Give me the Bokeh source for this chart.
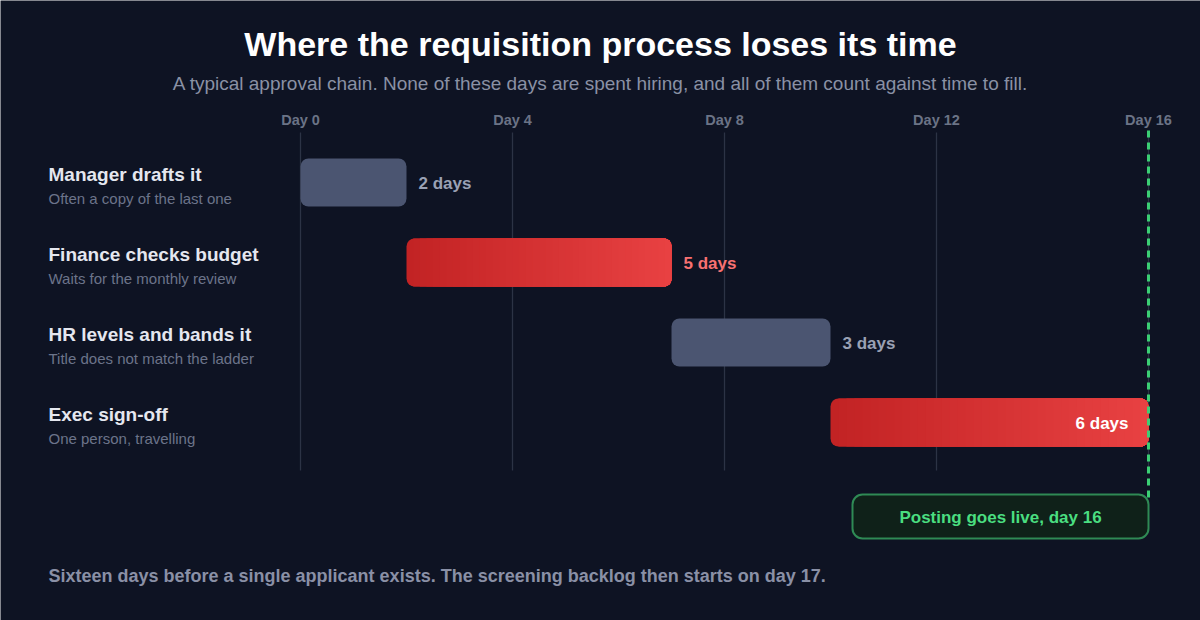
from bokeh.plotting import figure
from bokeh.models import Range1d
from bokeh.core.properties import value
from bokeh.embed import file_html
from bokeh.resources import INLINE

# ---- data ----
stages = ["Manager drafts it", "Finance checks budget", "HR levels and bands it", "Exec sign-off"]
notes = ["Often a copy of the last one", "Waits for the monthly review",
         "Title does not match the ladder", "One person, travelling"]
start_day = [0, 2, 7, 10]
duration = [2, 5, 3, 6]
is_delay = [False, True, False, True]
tick_days = [0, 4, 8, 12, 16]
tick_labels = ["Day 0", "Day 4", "Day 8", "Day 12", "Day 16"]
live_day = 16
title = "Where the requisition process loses its time"
subtitle = "A typical approval chain. None of these days are spent hiring, and all of them count against time to fill."
footer = "Sixteen days before a single applicant exists. The screening backlog then starts on day 17."
live_label = "Posting goes live, day 16"

# ---- layout (page pixels) ----
W, H = 1200, 620
X0, PXD = 300.0, 53.0          # day 0 at x=300, 53 px per day
def dx(xpage):
    return (xpage - X0) / PXD
row_y = [182 + 80 * i for i in range(len(stages))]
BAR_H = 48
FONT = "Liberation Sans"
BG = "#0e1323"

p = figure(width=W, height=H, output_backend="svg", toolbar_location=None,
           x_range=Range1d(dx(0), dx(W)), y_range=Range1d(H, 0),
           min_border=0, background_fill_color=BG, border_fill_color=BG,
           outline_line_color=None)
p.xaxis.visible = False
p.yaxis.visible = False
p.xgrid.visible = False
p.ygrid.visible = False

# title / subtitle
p.text(x=[dx(600)], y=[43], text=[title], text_font=value(FONT), text_font_style="bold",
       text_font_size="34px", text_color="#ffffff", text_align="center", text_baseline="middle")
p.text(x=[dx(600)], y=[83], text=[subtitle], text_font=value(FONT),
       text_font_size="19px", text_color="#8a91a5", text_align="center", text_baseline="middle")

# gridlines + tick labels
p.segment(x0=tick_days, x1=tick_days, y0=[132] * len(tick_days), y1=[470] * len(tick_days),
          line_color="#2c3345", line_width=1.3)
p.text(x=tick_days, y=[119] * len(tick_days), text=tick_labels, text_font=value(FONT),
       text_font_style="bold", text_font_size="14.5px", text_color="#6b7386",
       text_align="center", text_baseline="middle")

# bars
def lerp(c1, c2, t):
    a = [int(c1[i:i + 2], 16) for i in (1, 3, 5)]
    b = [int(c2[i:i + 2], 16) for i in (1, 3, 5)]
    return "#%02x%02x%02x" % tuple(round(a[k] + (b[k] - a[k]) * t) for k in range(3))

N = 40
for s, d, y, hot in zip(start_day, duration, row_y, is_delay):
    if hot:
        c_left, c_right = "#c22324", "#e84142"
    else:
        c_left, c_right = "#4b5571", "#4a5470"
    p.quad(left=[s], right=[s + d], top=[y - BAR_H / 2], bottom=[y + BAR_H / 2],
           fill_color=c_left, line_color=None, border_radius=8)
    if hot:
        for i in range(1, N):
            t = i / (N - 1)
            p.quad(left=[s + d * i / N], right=[s + d], top=[y - BAR_H / 2], bottom=[y + BAR_H / 2],
                   fill_color=lerp(c_left, c_right, t), line_color=None, border_radius=(0, 8, 8, 0))

# bar labels
for s, d, y, hot in zip(start_day, duration, row_y, is_delay):
    end = s + d
    lab = f"{d} days"
    if end >= live_day:
        p.text(x=[end], y=[y + 1], text=[lab], x_offset=-20, text_font=value(FONT),
               text_font_style="bold", text_font_size="17px", text_color="#ffffff",
               text_align="right", text_baseline="middle")
    else:
        p.text(x=[end], y=[y + 1], text=[lab], x_offset=12, text_font=value(FONT),
               text_font_style="bold", text_font_size="17px",
               text_color="#f87171" if hot else "#9aa1b4",
               text_align="left", text_baseline="middle")

# row labels
p.text(x=[dx(48)] * len(stages), y=[y - 8 for y in row_y], text=stages, text_font=value(FONT),
       text_font_style="bold", text_font_size="19px", text_color="#e5e7ef",
       text_align="left", text_baseline="middle")
p.text(x=[dx(48)] * len(stages), y=[y + 16 for y in row_y], text=notes, text_font=value(FONT),
       text_font_size="15px", text_color="#6c748a", text_align="left", text_baseline="middle")

# go-live marker
p.segment(x0=[live_day], x1=[live_day], y0=[130], y1=[498], line_color="#3bcf74",
          line_width=3, line_dash="7 5")
p.quad(left=[dx(852)], right=[live_day], top=[494], bottom=[538], fill_color="#0f2119",
       line_color="#2f8a55", line_width=2, border_radius=10)
p.text(x=[(dx(852) + live_day) / 2], y=[517], text=[live_label], text_font=value(FONT),
       text_font_style="bold", text_font_size="17px", text_color="#4ade80",
       text_align="center", text_baseline="middle")

# footer
p.text(x=[dx(48)], y=[575], text=[footer], text_font=value(FONT), text_font_style="bold",
       text_font_size="18px", text_color="#8a90a6", text_align="left", text_baseline="middle")

open("out.html", "w").write(file_html(p, INLINE))
